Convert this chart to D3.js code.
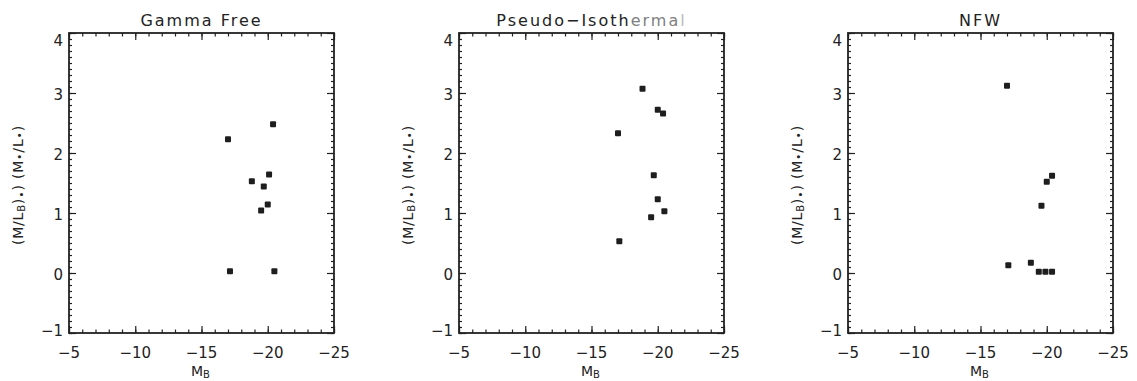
<!DOCTYPE html>
<html>
<head>
<meta charset="utf-8">
<script src="https://cdn.jsdelivr.net/npm/d3@7"></script>
<style>
  body { margin: 0; background: #fff; }
  svg text { font-family: "DejaVu Sans", sans-serif; fill: #222; }
</style>
</head>
<body>
<svg id="chart" width="1137" height="381"></svg>
<script>
// datos
var titles = ["Gamma Free", "Pseudo-Isothermal", "NFW"];

var gammaX = [-17.0, -20.4, -18.8, -20.1, -19.7, -20.0, -19.5, -17.15, -20.5];
var gammaY = [2.23, 2.48, 1.53, 1.64, 1.44, 1.14, 1.04, 0.03, 0.03];

var pisoX = [-18.85, -20.0, -20.4, -17.0, -19.7, -20.0, -20.5, -19.5, -17.1];
var pisoY = [3.07, 2.72, 2.66, 2.33, 1.63, 1.23, 1.03, 0.93, 0.53];

var nfwX = [-17.0, -20.4, -20.0, -19.6, -17.1, -18.8, -19.4, -19.9, -20.4];
var nfwY = [3.12, 1.62, 1.52, 1.12, 0.13, 0.17, 0.02, 0.02, 0.02];

var xTicks = [-5, -10, -15, -20, -25];
var yTicks = [-1, 0, 1, 2, 3, 4];

var seriesX = [gammaX, pisoX, nfwX];
var seriesY = [gammaY, pisoY, nfwY];
var panelLeft = [69, 459, 848];

var svg = d3.select("#chart");
var top0 = 33, h = 300, w = 265;

var fmt = function(d){ return d < 0 ? "\u2212" + Math.abs(d) : "" + d; };

for (var p = 0; p < 3; p++) {
  var left = panelLeft[p];
  var x = d3.scaleLinear().domain([-5, -25]).range([left, left + w]);
  var y = d3.scaleLinear().domain([-1, 4]).range([top0 + h, top0]);

  var g = svg.append("g");

  // ticks menores
  var xMinor = d3.range(-5, -25.5, -1);
  var yMinor = d3.range(-1, 4.01, 0.1);
  g.append("g").attr("transform", "translate(0," + (top0 + h) + ")")
    .call(d3.axisBottom(x).tickValues(xMinor).tickSize(-3.5).tickFormat(""));
  g.append("g").attr("transform", "translate(0," + top0 + ")")
    .call(d3.axisTop(x).tickValues(xMinor).tickSize(-3.5).tickFormat(""));
  g.append("g").attr("transform", "translate(" + left + ",0)")
    .call(d3.axisLeft(y).tickValues(yMinor).tickSize(-3).tickFormat(""));
  g.append("g").attr("transform", "translate(" + (left + w) + ",0)")
    .call(d3.axisRight(y).tickValues(yMinor).tickSize(-3).tickFormat(""));

  // ticks mayores
  g.append("g").attr("transform", "translate(0," + (top0 + h) + ")")
    .call(d3.axisBottom(x).tickValues(xTicks).tickSize(-7).tickFormat(""));
  g.append("g").attr("transform", "translate(0," + top0 + ")")
    .call(d3.axisTop(x).tickValues(xTicks).tickSize(-7).tickFormat(""));
  g.append("g").attr("transform", "translate(" + left + ",0)")
    .call(d3.axisLeft(y).tickValues(yTicks).tickSize(-7).tickFormat(""));
  g.append("g").attr("transform", "translate(" + (left + w) + ",0)")
    .call(d3.axisRight(y).tickValues(yTicks).tickSize(-7).tickFormat(""));

  g.selectAll(".domain").remove();
  g.selectAll(".tick line").attr("stroke", "#222").attr("stroke-width", 1.2);

  // marco
  g.append("rect")
    .attr("x", left).attr("y", top0).attr("width", w).attr("height", h)
    .attr("fill", "none").attr("stroke", "#222").attr("stroke-width", 1.8);

  // etiquetas x
  g.selectAll(".xl").data(xTicks).enter().append("text")
    .attr("x", function(d){ return x(d); })
    .attr("y", 358)
    .attr("text-anchor", "middle")
    .attr("font-size", 15)
    .text(fmt);

  // etiquetas y (IDL corre las de los extremos hacia adentro)
  g.selectAll(".yl").data(yTicks).enter().append("text")
    .attr("x", left - 6)
    .attr("y", function(d){
      var off = d == 4 ? 7 : (d == -1 ? -3 : 1);
      return y(d) + off + 5.5;
    })
    .attr("text-anchor", "end")
    .attr("font-size", 15)
    .text(fmt);

  // titulo
  var t = g.append("text")
    .attr("x", left + w / 2)
    .attr("y", 26)
    .attr("text-anchor", "middle")
    .attr("font-size", 16)
    .attr("letter-spacing", 2);
  if (p == 1) {
    t.append("tspan").text("Pseudo\u2212Isoth");
    t.append("tspan").attr("fill", "#808080").text("erma");
    t.append("tspan").attr("fill", "#bbb").text("l");
  } else {
    t.text(titles[p]);
  }

  // eje x
  var xl = g.append("text")
    .attr("x", left + w / 2 - 1)
    .attr("y", 376)
    .attr("text-anchor", "middle")
    .attr("font-size", 14);
  xl.append("tspan").text("M");
  xl.append("tspan").attr("font-size", 10).attr("dy", 2).text("B");

  // eje y
  var yl = g.append("text")
    .attr("transform", "translate(" + (left - 46) + "," + 185 + ") rotate(-90)")
    .attr("text-anchor", "middle")
    .attr("font-size", 14)
    .attr("letter-spacing", 0.8);
  yl.append("tspan").text("(M/L");
  yl.append("tspan").attr("font-size", 10).attr("dy", 2).text("B");
  yl.append("tspan").attr("dy", -2).text(")");
  yl.append("tspan").attr("font-size", 11).attr("dy", 2).text("\u2022");
  yl.append("tspan").attr("dy", -2).text(") (M");
  yl.append("tspan").attr("font-size", 11).text("\u2022");
  yl.append("tspan").text("/L");
  yl.append("tspan").attr("font-size", 11).text("\u2022");
  yl.append("tspan").text(")");

  // puntos
  var pts = seriesX[p].map(function(v, i){ return [v, seriesY[p][i]]; });
  g.selectAll(".pt").data(pts).enter().append("rect")
    .attr("x", function(d){ return x(d[0]) - 3; })
    .attr("y", function(d){ return y(d[1]) - 3; })
    .attr("width", 6).attr("height", 6)
    .attr("rx", 1)
    .attr("fill", "#1e1e1e");
}
</script>
</body>
</html>
